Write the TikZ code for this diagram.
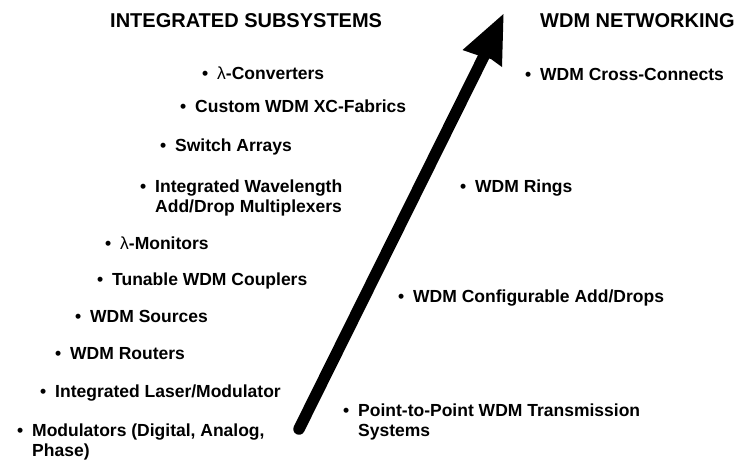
\documentclass[tikz,border=0pt]{standalone}
\usepackage{fontspec}
\setmainfont{Liberation Sans}
\newcommand\bul{\llap{\textbullet\hspace{9pt}}}
\newcommand\lam{{\mdseries λ}}
\begin{document}
\begin{tikzpicture}[x=1pt,y=-1pt,
  heading/.style={anchor=base west,inner sep=0pt,font=\fontsize{20pt}{24pt}\selectfont\bfseries},
  item/.style={anchor=base west,inner sep=0pt,align=left,font=\fontsize{17.5pt}{20pt}\selectfont\bfseries}]
\useasboundingbox (0,0) rectangle (745,459);

% column headings
\node[heading] (hleft)  at (110,27) {INTEGRATED SUBSYSTEMS};
\node[heading] (hright) at (540,27) {WDM NETWORKING};

% integrated subsystems, left column (two-line items sit on their last baseline)
\node[item] (conv)  at (217,79)  {\bul\lam-Converters};
\node[item] (xcf)   at (195,112) {\bul Custom WDM XC-Fabrics};
\node[item] (swa)   at (175,151) {\bul Switch Arrays};
\node[item] (iwadm) at (155,212) {\bul Integrated Wavelength\\Add/Drop Multiplexers};
\node[item] (mon)   at (120,249) {\bul\lam-Monitors};
\node[item] (tun)   at (112,285) {\bul Tunable WDM Couplers};
\node[item] (src)   at (90,322)  {\bul WDM Sources};
\node[item] (rout)  at (70,359)  {\bul WDM Routers};
\node[item] (ilm)   at (55,397)  {\bul Integrated Laser/Modulator};
\node[item] (mods)  at (32,456)  {\bul Modulators (Digital, Analog,\\Phase)};

% WDM networking, right column
\node[item] (xc)    at (540,80)  {\bul WDM Cross-Connects};
\node[item] (rings) at (475,192) {\bul WDM Rings};
\node[item] (cad)   at (413,302) {\bul WDM Configurable Add/Drops};
\node[item] (p2p)   at (358,436) {\bul Point-to-Point WDM Transmission\\Systems};

% the big evolution arrow
\coordinate (tail)  at (299,429);
\coordinate (neck)  at (485,54);
\coordinate (tip)   at (503.5,14);
\coordinate (wingl) at (462.5,50);
\coordinate (wingr) at (502,67);
\coordinate (backl) at (477,55);
\coordinate (backr) at (491,59);
\draw[line width=11.5pt,line cap=round] (tail) -- (neck);
\fill (tip) -- (wingl) -- (backl) -- (backr) -- (wingr) -- cycle;
\end{tikzpicture}
\end{document}
